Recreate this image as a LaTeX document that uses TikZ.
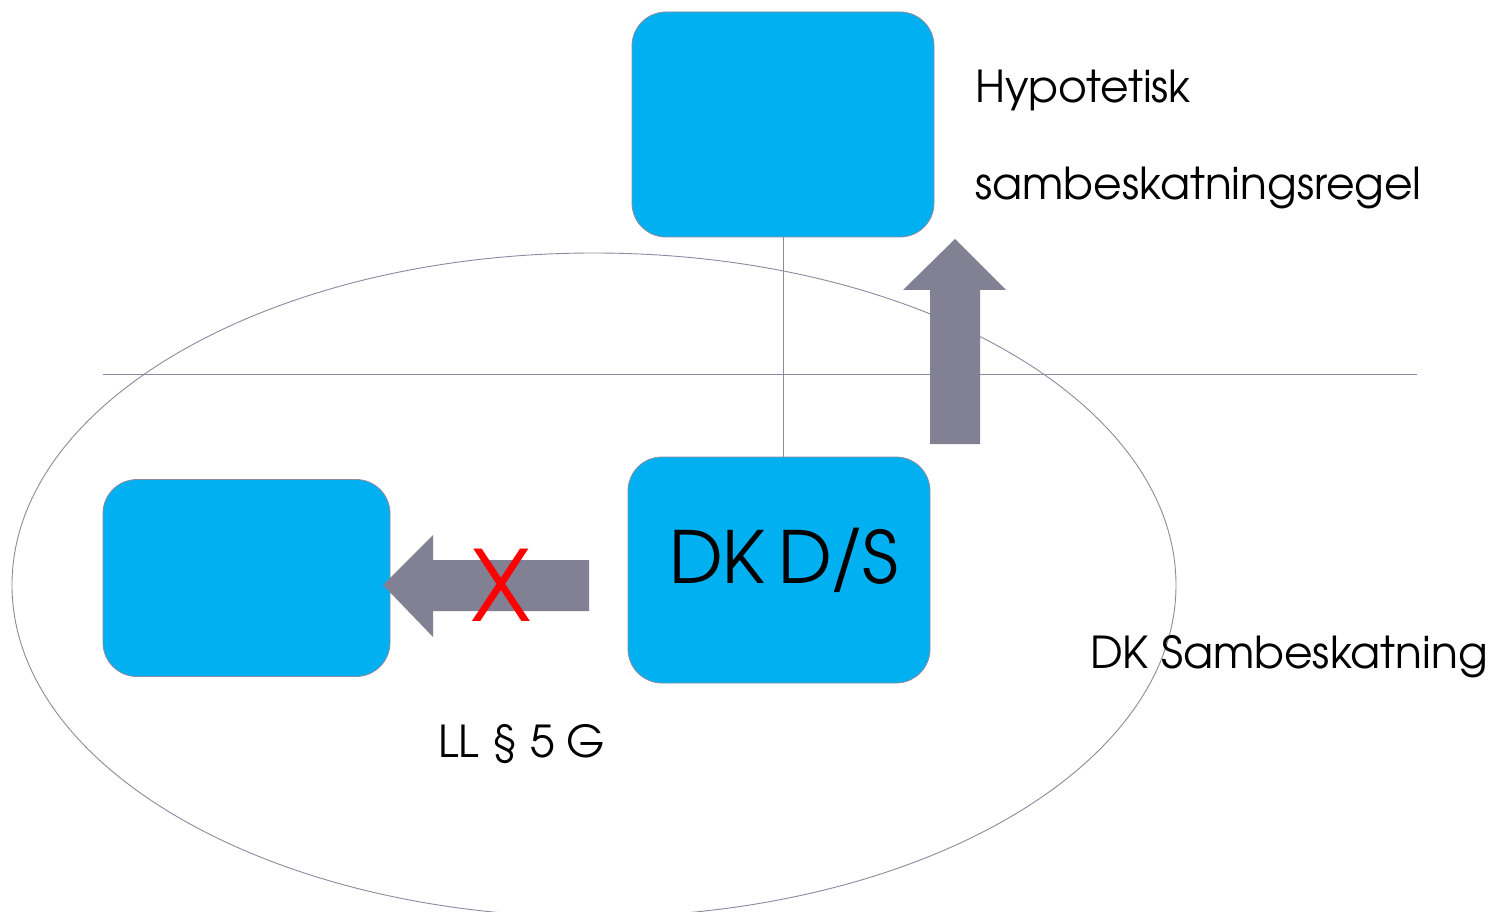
\documentclass[tikz,border=0pt]{standalone}
\usepackage{fontspec}
\usepackage{graphicx}
\setmainfont{TeX Gyre Adventor}
\definecolor{boxcyan}{RGB}{0,176,240}
\definecolor{arrowgray}{RGB}{130,128,147}
\definecolor{linegray}{RGB}{138,138,160}
\definecolor{xred}{RGB}{255,0,0}
\tikzset{
  entity/.style={draw=linegray, line width=0.8pt, fill=boxcyan, rounded corners=34pt, inner sep=0pt},
  thinline/.style={draw=linegray, line width=0.9pt},
  blockarrow/.style={fill=arrowgray, draw=none},
  caption/.style={inner sep=0pt, anchor=base west, font=\fontsize{44}{52}\selectfont}
}
\begin{document}
\begin{tikzpicture}[x=1pt,y=-1pt]
\useasboundingbox (0,0) rectangle (1492,912);
% group boundary and level line
\draw[thinline] (594,585) ellipse [x radius=582, y radius=332];
\draw[thinline] (103,374) -- (1417,374);
% entities
\node[entity, minimum width=302pt, minimum height=225pt] (top) at (783,124.5) {};
\node[entity, minimum width=287pt, minimum height=197pt] (sub) at (246.5,578) {};
\node[entity, minimum width=302pt, minimum height=226pt] (dkds) at (779,570) {};
\node[inner sep=0pt, anchor=base west, font=\fontsize{72}{80}\selectfont] (dkdslabel) at (669,583)
  {DK\hspace{13pt}D\hspace{-3pt}\raisebox{0.04em}{\scalebox{1}[1.12]{/}}\hspace{-3pt}S};
% ownership line
\draw[thinline] (top.south) -- (top.south |- dkds.north);
% upward block arrow
\fill[blockarrow] (955,239) -- (1006,290) -- (980,290) -- (980,444) -- (930,444) -- (930,290) -- (903,290) -- cycle;
% blocked arrow to the subsidiary
\fill[blockarrow] (383,585) -- (433,535) -- (433,560) -- (589,560) -- (589,611) -- (433,611) -- (433,637) -- cycle;
\node[inner sep=0pt, text=xred, font=\fontsize{98}{110}\selectfont] (cross) at (501,585) {X};
% captions
\node[caption] (hyp) at (975,103) {Hypotetisk};
\node[caption] (regel) at (975,200) {sambeskatningsregel};
\node[caption] (dksam) at (1090,668) {DK Sambeskatning};
\node[caption] (ll) at (438,757) {LL § 5 G};
\end{tikzpicture}
\end{document}
